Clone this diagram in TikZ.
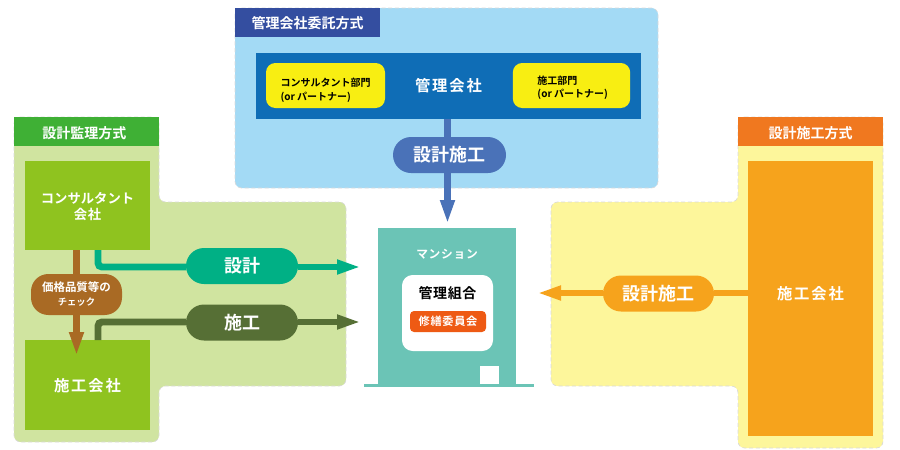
\documentclass[tikz,border=0pt]{standalone}
\usepackage{fontspec}
\usepackage{tikz}
\usetikzlibrary{arrows.meta, calc}
\setmainfont{Noto Sans CJK JP}[BoldFont={* Bold}]
\definecolor{kanriBg}{HTML}{A3DAF5}
\definecolor{kanriHead}{HTML}{344EA0}
\definecolor{kanriBox}{HTML}{0F6DB6}
\definecolor{kanriPill}{HTML}{4A72B8}
\definecolor{kanriYel}{HTML}{F8EE12}
\definecolor{kanshiBg}{HTML}{D0E4A0}
\definecolor{kanshiHead}{HTML}{3FB035}
\definecolor{kanshiBox}{HTML}{8FC31F}
\definecolor{checkBrown}{HTML}{A96A24}
\definecolor{sekkeiTeal}{HTML}{00B085}
\definecolor{sekoOlive}{HTML}{566F35}
\definecolor{sekoBg}{HTML}{FDF69B}
\definecolor{sekoHead}{HTML}{F0781F}
\definecolor{sekoBox}{HTML}{F6A31C}
\definecolor{bldg}{HTML}{6BC4B6}
\definecolor{iinkai}{HTML}{EE5A14}
\newcommand{\nudge}[2]{\raisebox{#1}[0pt][0pt]{#2}}

\begin{document}
\begin{tikzpicture}[x=0.75pt, y=-0.75pt, font=\bfseries,
    panel/.style={draw=black!15, densely dashed, line width=0.5pt, rounded corners=5pt},
    head/.style={inner sep=0pt, outer sep=0pt, minimum width=108.75pt, minimum height=21.75pt, text=white,
      font=\fontsize{10.5}{12}\selectfont\bfseries},
    firm/.style={inner sep=0pt, outer sep=0pt, minimum width=93.75pt, align=center, text=white,
      font=\fontsize{11.5}{13}\selectfont\bfseries\addfontfeature{LetterSpace=12}},
    pill/.style={inner sep=0pt, outer sep=0pt, minimum height=27pt, rounded corners=13.5pt, text=white,
      font=\fontsize{13.5}{15}\selectfont\bfseries},
    conn/.style={line width=5.2pt},
    tip/.style={-{Triangle[length=18pt, width=10pt]}},
    part/.style={fill=kanriYel, inner sep=0pt, outer sep=0pt, minimum height=33.75pt, rounded corners=7pt,
      align=left, font=\fontsize{7.5}{10.3}\selectfont\bfseries}]
  \useasboundingbox (0,0) rectangle (900,450);
  % kanri gaisha panel, top
  \path[panel, fill=kanriBg] (235,8) rectangle (658,188);
  \node[head, fill=kanriHead, anchor=north west] (hKanri) at (235,8) {\nudge{-4.4pt}{管理会社委託方式}};
  \node[fill=kanriBox, inner sep=0pt, outer sep=0pt, minimum width=288.75pt, minimum height=49.5pt, text=white,
    font=\fontsize{11.5}{13}\selectfont\bfseries\addfontfeature{LetterSpace=12}] (kanri) at (448.5,86) {管理会社};
  \node[part, minimum width=89.25pt] (pConsul) at (325.5,85.5) {\nudge{-11pt}{\shortstack[l]{コンサルタント部門\\(or パートナー)}}};
  \node[part, minimum width=88pt] (pSeko) at (571.5,85.5) {\hspace*{1.8pt}\nudge{-9.2pt}{\shortstack[l]{施工部門\\(or パートナー)}}};
  % sekkei kanri panel, left
  \path[panel, fill=kanshiBg] (14,117) -- (159,117) -- (159,202) -- (346,202) -- (346,386)
    -- (159,386) -- (159,442) -- (14,442) -- cycle;
  \node[head, fill=kanshiHead, anchor=north west] (hKanshi) at (14,117) {\hspace*{-3pt}\nudge{-5.1pt}{設計監理方式}};
  \node[firm, fill=kanshiBox, minimum height=66.75pt, font=\fontsize{10}{12}\selectfont\bfseries] (consul) at (87.5,205.5) {\nudge{-10.5pt}{\shortstack{コンサルタント\\{\addfontfeature{LetterSpace=6}会社}}}};
  \node[firm, fill=kanshiBox, minimum height=67.5pt] (koji) at (87.5,385) {\nudge{-5.1pt}{施工会社}};
  % sekkei seko panel, right
  \path[panel, fill=sekoBg] (738,117) -- (883,117) -- (883,448) -- (738,448) -- (738,386)
    -- (551,386) -- (551,202) -- (738,202) -- cycle;
  \node[head, fill=sekoHead, anchor=north west] (hSeko) at (738,117) {\nudge{-5.1pt}{設計施工方式}};
  \node[firm, fill=sekoBox, minimum height=206.25pt] (seko) at (810.5,298.5) {\nudge{-1pt}{施工会社}};
  % mansion
  \node[fill=bldg, inner sep=0pt, outer sep=0pt, minimum width=127.5pt, minimum height=2.25pt] (ground) at (449,385.5) {};
  \node[fill=bldg, inner sep=0pt, outer sep=0pt, minimum width=103.5pt, minimum height=117pt] (bldgBox) at (447,306) {};
  \node[fill=white, inner sep=0pt, outer sep=0pt, minimum size=14pt] (door) at (489.5,375) {};
  \node[text=white, font=\fontsize{8.8}{10}\selectfont\bfseries\addfontfeature{LetterSpace=6}] (mansion) at (447,254.5) {マンション};
  \node[fill=white, inner sep=0pt, outer sep=0pt, minimum width=68.25pt, minimum height=57pt, rounded corners=8pt] (kumiai) at (447.5,313) {};
  \node[font=\fontsize{10.5}{12}\selectfont\bfseries\addfontfeature{LetterSpace=4}] (kumiaiText) at (447.5,293) {管理組合};
  \node[fill=iinkai, text=white, inner sep=0pt, outer sep=0pt, minimum width=57pt, minimum height=15.75pt, rounded corners=3pt,
    font=\fontsize{8.4}{10}\selectfont\bfseries\addfontfeature{LetterSpace=6}] (shuzen) at (448,321.5) {修繕委員会};
  % free ends of the arrows
  \coordinate (tipKanri) at (447.5,224);
  \coordinate (tipSekkei) at (361,267);
  \coordinate (tipKoji) at (361,322);
  \coordinate (tipSeko) at (537,293);
  % pills
  \node[pill, fill=kanriPill, minimum width=84.75pt] (pKanri) at (449.5,155) {設計施工};
  \node[pill, fill=sekkeiTeal, minimum width=84pt] (pSekkei) at (242,266) {設計};
  \node[pill, fill=sekoOlive, minimum width=84pt] (pKoji) at (242,322.5) {施工};
  \node[pill, fill=sekoBox, minimum width=83.25pt] (pSeko2) at (658.5,293.5) {設計施工};
  \node[pill, fill=checkBrown, minimum width=68.25pt, minimum height=30.75pt, rounded corners=13pt,
    font=\fontsize{8.6}{10.5}\selectfont\bfseries, align=center, text=white] (pCheck) at (76.5,294.5) {価格品質等の\\{\fontsize{7}{10.5}\selectfont チェック}};
  % connectors
  \draw[conn, kanriPill] (kanri.south -| tipKanri) -- (pKanri.north -| tipKanri);
  \draw[conn, kanriPill, tip] (pKanri.south -| tipKanri) -- (tipKanri);
  \draw[conn, sekkeiTeal, rounded corners=3pt] ($(consul.south)+(10.5,0)$) |- (pSekkei.west |- tipSekkei);
  \draw[conn, sekkeiTeal, tip] (pSekkei.east |- tipSekkei) -- (tipSekkei);
  \draw[conn, sekoOlive, rounded corners=3pt] ($(koji.north)+(10.5,0)$) |- (pKoji.west |- tipKoji);
  \draw[conn, sekoOlive, tip] (pKoji.east |- tipKoji) -- (tipKoji);
  \draw[conn, sekoBox] (seko.west |- tipSeko) -- (pSeko2.east |- tipSeko);
  \draw[conn, sekoBox, tip] (pSeko2.west |- tipSeko) -- (tipSeko);
  \draw[conn, checkBrown] (pCheck.north |- consul.south) -- (pCheck.north);
  \draw[conn, checkBrown, tip] (pCheck.south) -- ($(pCheck.south)+(0,41)$);
\end{tikzpicture}
\end{document}
